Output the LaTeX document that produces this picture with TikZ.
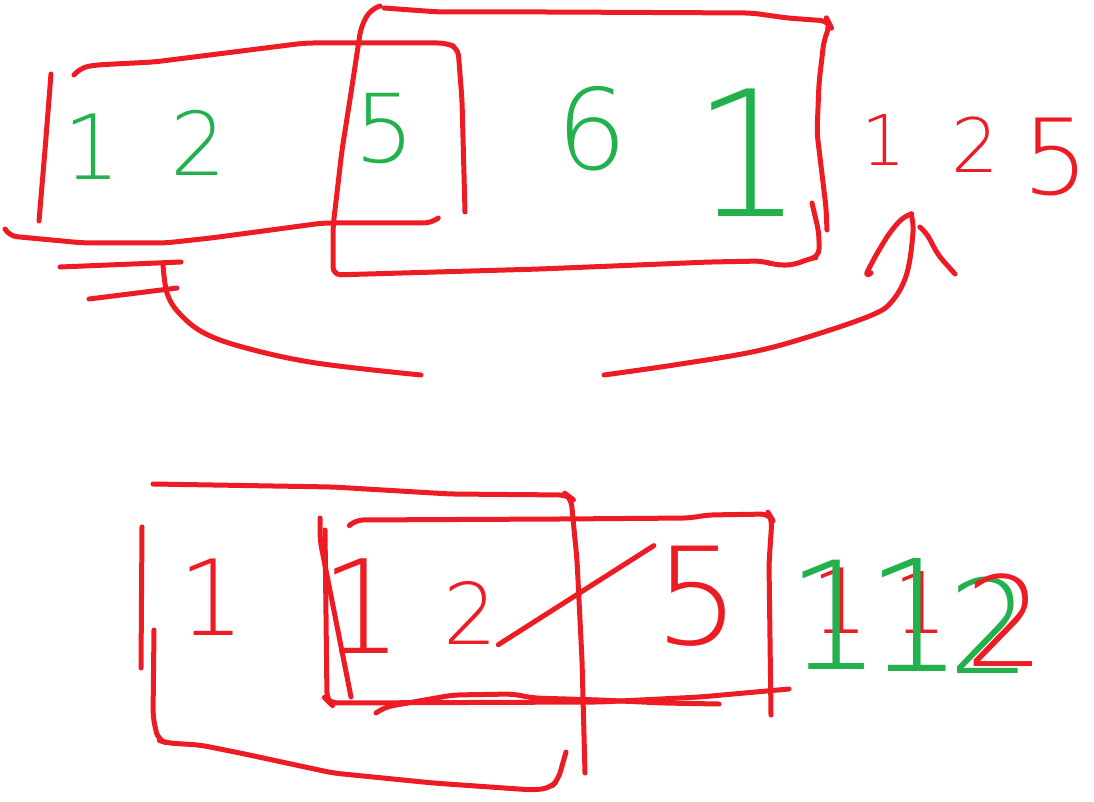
\documentclass[tikz,border=0pt]{standalone}
\usepackage{fontspec}
\setmainfont{Liberation Sans}
\newfontfamily\handfont{DejaVu Sans ExtraLight}
\usepackage{tikz}
\usepackage{xcolor}
\definecolor{paintred}{RGB}{237,28,36}
\definecolor{paintgreen}{RGB}{34,177,76}
\newcommand\digsize[1]{\handfont\fontsize{#1}{#1}\selectfont}

\begin{document}
\begin{tikzpicture}[x=1pt,y=-1pt,
  pen/.style={line width=5pt,line cap=round,line join=round,rounded corners=8pt},
  redpen/.style={pen,draw=paintred},
  gdigit/.style={text=paintgreen,inner sep=0pt,anchor=center},
  rdigit/.style={text=paintred,inner sep=0pt,anchor=center}]
\useasboundingbox (0,0) rectangle (1094,802);
% top: first window
\draw[redpen] (51,74) -- (45,150) -- (39,221);
\draw[redpen] (74,75) -- (80,68) -- (95,65) -- (154,62) -- (305,43) -- (446,43) -- (458,48) -- (462,100) -- (465,212);
\draw[redpen] (5,229) -- (9,236) -- (84,243) -- (165,243) -- (211,238) -- (323,223) -- (432,223) -- (437,219);
% top: second window
\draw[redpen] (380,6) -- (370,10) -- (361,27) -- (351,93) -- (342,150) -- (333,227) -- (333,275) -- (540,269) -- (710,262) -- (763,261) -- (775,265) -- (794,265) -- (808,259) -- (819,257) -- (819,233) -- (812,203);
\draw[redpen] (384,8) -- (439,12) -- (550,12) -- (752,13) -- (787,18) -- (828,21) -- (830,25) -- (824,40) -- (819,83) -- (817,133) -- (826,207) -- (827,230);
\node[gdigit,font=\digsize{90}] (ta1) at (92,147) {1};
\node[gdigit,font=\digsize{88}] (ta2) at (198,143) {2};
\node[gdigit,font=\digsize{95}] (ta5) at (385,129) {5};
\node[gdigit,font=\digsize{112}] (tb6) at (592,129) {6};
\node[gdigit,font=\digsize{175}] (tb1) at (748,153) {1};
% result
\node[rdigit,font=\digsize{70}] (r1) at (884,140) {1};
\node[rdigit,font=\digsize{75}] (r2) at (975,145) {2};
\node[rdigit,font=\digsize{105}] (r5) at (1056,157) {5};
% bracket and curved arrow
\draw[redpen] (60,267) -- (181,262);
\draw[redpen] (89,299) -- (177,288);
\draw[pen,draw=paintred,rounded corners=0pt] plot[smooth,tension=0.6] coordinates {(163,265) (167,293) (179,313) (204,333) (246,348) (316,363) (421,375)};
\draw[pen,draw=paintred,rounded corners=0pt] plot[smooth,tension=0.6] coordinates {(604,375) (674,365) (752,352) (808,337) (872,315) (893,300) (907,273) (913,232) (911,214)};
\draw[redpen] (911,214) -- (904,216) -- (890,232) -- (876,255) -- (864,278) -- (871,273);
\draw[redpen] (921,228) -- (926,232) -- (938,255) -- (955,274);
% bottom: first window
\draw[redpen] (153,484) -- (333,487) -- (450,494) -- (567,495) -- (571,498) -- (577,560) -- (582,660) -- (585,773);
\draw[redpen] (142,527) -- (141,668);
\draw[redpen] (154,630) -- (153,717) -- (158,740) -- (167,743) -- (200,745) -- (240,753) -- (333,773) -- (433,783) -- (533,790) -- (550,788) -- (558,780) -- (566,752);
\node[rdigit,font=\digsize{105}] (c1) at (212,597) {1};
% bottom: second window
\draw[redpen] (320,518) -- (320,540) -- (351,697);
\draw[redpen] (325,530) -- (327,700) -- (330,703) -- (600,702) -- (700,697) -- (789,689);
\draw[redpen] (351,524) -- (355,520) -- (560,519) -- (690,518) -- (707,515) -- (769,514) -- (772,519) -- (769,563) -- (771,715);
\draw[redpen] (376,713) -- (385,707) -- (453,695) -- (513,694) -- (533,698) -- (600,700) -- (663,703) -- (719,704);
\node[rdigit,font=\digsize{130}] (d1) at (362,606) {1};
\node[rdigit,font=\digsize{85}] (d2) at (471,613) {2};
\node[rdigit,font=\digsize{135}] (d5) at (697,596) {5};
\draw[redpen] (d2.south east) -- (d5.north west);
% bottom: result
\node[rdigit,font=\digsize{90}] (s1r) at (840,601) {1};
\node[rdigit,font=\digsize{85}] (s2r) at (921,603) {1};
\node[gdigit,font=\digsize{150}] (s1) at (834,615) {1};
\node[gdigit,font=\digsize{155}] (s2) at (915,615) {1};
\node[gdigit,font=\digsize{130}] (s3) at (990,625) {2};
\node[rdigit,font=\digsize{125}] (s3r) at (1005,620) {2};
\end{tikzpicture}
\end{document}
